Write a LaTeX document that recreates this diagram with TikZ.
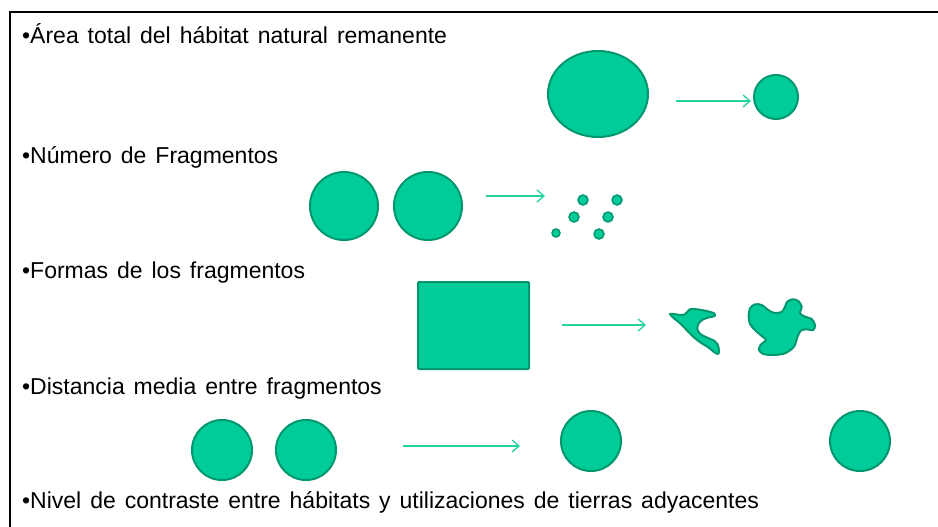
\documentclass[tikz,border=0pt]{standalone}
\usepackage{fontspec}
\setmainfont[WordSpace=1.4]{Liberation Sans}
\usetikzlibrary{positioning, shapes.geometric, arrows.meta}
\definecolor{patch}{RGB}{0,204,153}
\definecolor{patchline}{RGB}{0,150,110}
\definecolor{arrowline}{RGB}{40,210,160}

\begin{document}
\begin{tikzpicture}[x=1pt, y=-1pt,
rowtext/.style={anchor=base west, inner sep=0pt, font=\fontsize{23}{27}\selectfont},
patchbox/.style={fill=patch, draw=patchline, line width=2pt, inner sep=0pt, outer sep=0pt},
disc/.style={patchbox, circle, minimum size=#1},
spot/.style={patchbox, circle, line width=1.5pt, minimum size=#1},
blob/.style={fill=patch, draw=patchline, line width=2pt, line join=round},
trend/.style={draw=arrowline, line width=1.3pt, -{Straight Barb[length=7pt, width=12pt]}} ]
\useasboundingbox (0,0) rectangle (938,527);
\draw[line width=2.5pt] (940,12) -- (10,12) -- (10,530);

\node (area) [rowtext] at (22,44) {•Área total del hábitat natural remanente};
\node (big) [patchbox, ellipse, minimum width=100pt, minimum height=86pt] at (598,94) {};
\node (small) [disc=44pt] at (776,97) {};
\coordinate (a1) at (676,101);
\coordinate (a2) at (751,101);
\path (a1) edge[trend] (a2);

\node (numero) [rowtext] at (22,163) {•Número de Fragmentos};
\node (whole1) [disc=68pt] at (344,206) {};
\node (whole2) [disc=68pt, right=16pt of whole1] {};
\coordinate (b1) at (486,196);
\coordinate (b2) at (545,196);
\path (b1) edge[trend] (b2);
\node (bit1) [spot=10pt] at (583,200) {};
\node (bit2) [spot=10pt] at (617,200) {};
\node (bit3) [spot=10pt] at (574,217) {};
\node (bit4) [spot=10pt] at (608,217) {};
\node (bit5) [spot=8pt] at (556,233) {};
\node (bit6) [spot=10pt] at (599,234) {};

\node (formas) [rowtext] at (22,278) {•Formas de los fragmentos};
\node (block) [patchbox, rectangle, rounded corners=1pt, minimum width=111pt, minimum height=87pt] at (473.5,325.5) {};
\coordinate (c1) at (562,325);
\coordinate (c2) at (646,325);
\path (c1) edge[trend] (c2);
\draw[blob] plot[smooth cycle, tension=0.5] coordinates {(670,314) (683.3,315) (690,309.3) (696.7,309.3) (706.7,311) (714,313.3) (714.7,316) (709.3,317.3) (703.3,319.3) (698.7,323.3) (697.3,329.3) (700.7,334.3) (707.3,337.7) (714,340.7) (717.7,344.7) (719,350.7) (718,354) (714,352) (708.3,347.3) (701.7,343.3) (695,338.3) (688.3,331.7) (680,323.3)};
\draw[blob] plot[smooth cycle, tension=0.5] coordinates {(750,308.3) (755,304.3) (761.7,305) (767.3,309.3) (773.3,312.7) (781.7,312) (785,306.7) (787.3,301.7) (792.7,299.3) (798.3,301) (801.7,306.7) (800,313.3) (805,316.7) (811.7,319) (815,325) (813.3,330) (806.7,329.3) (800.7,330.7) (797.3,337.3) (794,346.7) (785,353.3) (773.3,355) (763.3,354) (759,350) (760.7,344.7) (766,340) (761.7,336) (755,330) (750,324) (748.7,316.7)};

\node (distancia) [rowtext] at (22,394) {•Distancia media entre fragmentos};
\node (near1) [disc=60pt] at (222,450) {};
\node (near2) [disc=60pt, right=24pt of near1] {};
\coordinate (d1) at (403,446);
\coordinate (d2) at (520,446);
\path (d1) edge[trend] (d2);
\node (far1) [disc=60pt] at (591,441) {};
\node (far2) [disc=60pt] at (860,441) {};

\node (nivel) [rowtext] at (22,508) {•Nivel de contraste entre hábitats y utilizaciones de tierras adyacentes};
\end{tikzpicture}
\end{document}
